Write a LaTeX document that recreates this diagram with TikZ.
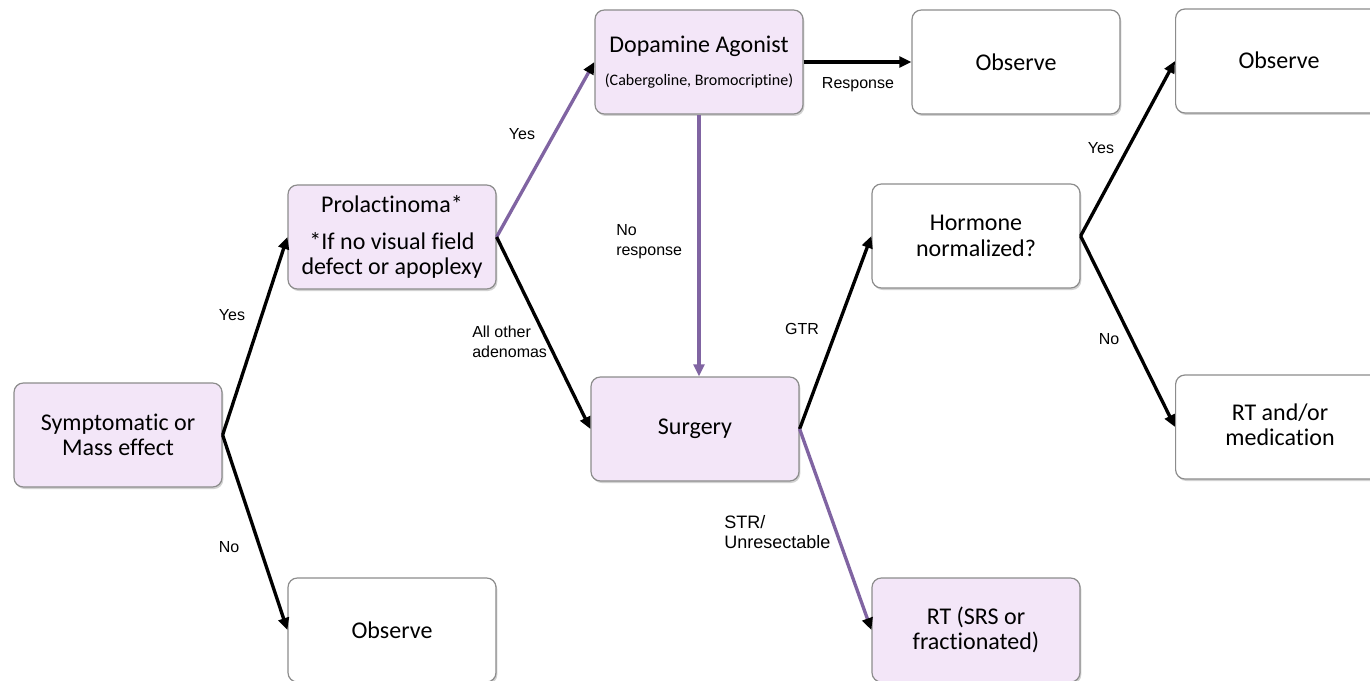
\documentclass[tikz,border=0pt]{standalone}
\usepackage{fontspec}
\setmainfont{Carlito}[Ligatures=NoCommon]
\newfontfamily\lblfont{Liberation Sans}
\usetikzlibrary{arrows.meta,shadows}
\definecolor{boxfill}{HTML}{F3E6F8}
\definecolor{boxline}{HTML}{8C8C8C}
\definecolor{purp}{HTML}{8064A2}
\tikzset{
  box/.style={draw=boxline, line width=0.9pt, rounded corners=7pt, minimum width=156pt, minimum height=78pt,
    align=center, font=\fontsize{18}{19}\selectfont, inner sep=2pt,
    drop shadow={opacity=0.35, shadow xshift=1pt, shadow yshift=-1.5pt}},
  pbox/.style={box, fill=boxfill},
  wbox/.style={box, fill=white},
  lbl/.style={font=\lblfont\fontsize{12}{15}\selectfont, inner sep=0pt, align=left},
  blk/.style={draw=black, line width=2.5pt, -{Triangle[length=9pt,width=8pt]}},
  pur/.style={draw=purp, line width=2.5pt, -{Triangle[length=9pt,width=8pt,color=black]}},
  purp/.style={draw=purp, line width=2.5pt, -{Triangle[length=9pt,width=8pt]}},
}
\begin{document}
\begin{tikzpicture}[x=0.75pt, y=-0.75pt]
\clip (0,0) rectangle (1370,681);
\fill[white] (0,0) rectangle (1370,681);

\node[pbox] (A) at (118,435) {Symptomatic or\\Mass effect};
\node[pbox] (B) at (392,237) {Prolactinoma*\\[9pt]*If no visual field\\defect or apoplexy};
\node[wbox] (C) at (392,630) {Observe};
\node[pbox] (D) at (699,62) {Dopamine Agonist\\[6pt]{\fontsize{12}{14}\selectfont (Cabergoline, Bromocriptine)}};
\node[wbox] (E) at (1016,62) {Observe};
\node[wbox, anchor=west] (F) at (1175,61) {};
\node (Ft) at (1279,60) {\fontsize{18}{19}\selectfont Observe};
\node[wbox] (G) at (976,236) {Hormone\\normalized?};
\node[pbox] (H) at (695,429) {Surgery};
\node[wbox, anchor=west] (I) at (1175,427) {};
\node (It) at (1280,425) [align=center, font=\fontsize{18}{19}\selectfont] {RT and/or\\medication};
\node[pbox] (J) at (976,630) {RT (SRS or\\fractionated)};

\draw[blk] (A.east) -- (B.west);
\draw[blk] (A.east) -- (C.west);
\draw[pur] (B.east) -- (D.west);
\draw[blk] (B.east) -- (H.west);
\draw[purp] (D.south) -- (D.south |- H.north);
\draw[blk] (D.east) -- (E.west);
\draw[blk] (H.east) -- (G.west);
\draw[pur] (H.east) -- (J.west);
\draw[blk] (G.east) -- (F.west);
\draw[blk] (G.east) -- (I.west);

\node[lbl] (l1) at (232,315) {Yes};
\node[lbl] (l2) at (229,547) {No};
\node[lbl] (l3) at (522,134) {Yes};
\node[lbl, anchor=west] (l4) at (472,342) {All other\\adenomas};
\node[lbl, anchor=west] (l5) at (616,242) {No\\response};
\node[lbl] (l6) at (858,85) {Response};
\node[lbl] (l7) at (802,329) {GTR};
\node[lbl, anchor=west, font=\lblfont\fontsize{13.5}{15}\selectfont] (l8) at (724,532) {STR/\\Unresectable};
\node[lbl] (l9) at (1101,148) {Yes};
\node[lbl] (l10) at (1109,339) {No};
\end{tikzpicture}
\end{document}
